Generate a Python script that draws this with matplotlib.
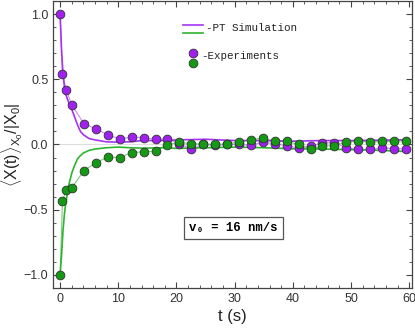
import numpy as np
import matplotlib
matplotlib.use('Agg')
import matplotlib.pyplot as plt
from matplotlib.ticker import MultipleLocator

# experiment sampling times (s)
t_exp = [0, 0.41, 1.03, 2.05, 4.1, 6.15, 8.2, 10.25, 12.3, 14.35, 16.4, 18.45,
         20.5, 22.55, 24.6, 26.65, 28.7, 30.75, 32.8, 34.85, 36.9, 38.95,
         41.0, 43.05, 45.1, 47.15, 49.2, 51.25, 53.3, 55.35, 57.4, 59.45]
exp_pos = [1.0, 0.54, 0.42, 0.30, 0.16, 0.12, 0.074, 0.043, 0.056, 0.053, 0.040, 0.043,
           0.005, -0.033, 0.0, -0.005, 0.0, 0.0, -0.005, 0.018, 0.005, -0.008,
           -0.028, -0.010, 0.010, 0.015, -0.025, -0.038, -0.038, -0.025, -0.033, -0.033]
exp_neg = [-1.0, -0.43, -0.35, -0.33, -0.20, -0.14, -0.097, -0.10, -0.062, -0.056, -0.051, -0.002,
           0.018, 0.005, 0.003, 0.0, 0.005, 0.018, 0.038, 0.048, 0.025, 0.023,
           0.0, -0.036, -0.013, -0.008, 0.018, 0.025, 0.018, 0.023, 0.023, 0.030]

# PT simulation curves
t_sim = [0, 0.25, 0.5, 0.75, 1, 1.5, 2, 2.5, 3, 3.5, 4, 5, 6, 7, 8, 10, 12, 14,
         16, 18, 20, 25, 30, 35, 40, 45, 50, 55, 60]
sim_pos = [1.0, 0.72, 0.54, 0.44, 0.38, 0.32, 0.27, 0.21, 0.15, 0.10, 0.075, 0.045,
           0.035, 0.028, 0.02, 0.018, 0.02, 0.03, 0.03, 0.03, 0.035, 0.04, 0.03,
           0.03, 0.025, 0.03, 0.03, 0.033, 0.036]
sim_neg = [-1.0, -0.85, -0.66, -0.53, -0.44, -0.31, -0.22, -0.16, -0.11, -0.085, -0.065,
           -0.045, -0.035, -0.03, -0.025, -0.02, -0.025, -0.028, -0.027, -0.025, -0.03,
           -0.025, -0.02, -0.025, -0.033, -0.035, -0.04, -0.045, -0.055]

purple = '#A020F0'
green = '#139913'

plt.rcParams['mathtext.fontset'] = 'custom'
plt.rcParams['mathtext.rm'] = 'Liberation Sans'

fig = plt.figure(figsize=(4.15, 3.31), dpi=100)
ax = fig.add_axes([0.128, 0.130, 0.865, 0.867])

ax.axhline(0, color='#dddddd', lw=0.8, zorder=0)

ax.plot(t_sim, sim_pos, color='#A633F2', lw=1.2, zorder=2)
ax.plot(t_sim, sim_neg, color='#2DB52D', lw=1.2, zorder=2)

ax.plot(t_exp, exp_pos, color='#C890F5', lw=0.8, zorder=1)
ax.plot(t_exp, exp_neg, color='#80C880', lw=0.8, zorder=1)
ax.plot(t_exp, exp_pos, 'o', ms=6.3, mfc=purple, mec='#333333', mew=0.6, zorder=3)
ax.plot(t_exp, exp_neg, 'o', ms=6.3, mfc=green, mec='#333333', mew=0.6, zorder=4)

# legend drawn by hand (Mathematica style)
ax.plot([0.362, 0.418], [0.916, 0.916], color='#A633F2', lw=1.2, transform=ax.transAxes)
ax.plot([0.362, 0.418], [0.888, 0.888], color='#2DB52D', lw=1.2, transform=ax.transAxes)
ax.text(0.427, 0.905, '-PT Simulation', transform=ax.transAxes, va='center',
        family='Liberation Mono', fontsize=7.8, color='#222222')
ax.plot([0.39], [0.819], 'o', ms=6.3, mfc=purple, mec='#333333', mew=0.6, transform=ax.transAxes)
ax.plot([0.39], [0.785], 'o', ms=6.3, mfc=green, mec='#333333', mew=0.6, transform=ax.transAxes)
ax.text(0.413, 0.808, '-Experiments', transform=ax.transAxes, va='center',
        family='Liberation Mono', fontsize=7.8, color='#222222')

ax.text(29.8, -0.64, 'v\u2080 = 16 nm/s', ha='center', va='center',
        family=['Liberation Mono', 'DejaVu Sans Mono'], fontweight='bold', fontsize=8.8,
        bbox=dict(boxstyle='square,pad=0.4', fc='white', ec='#555555', lw=0.9))

ax.set_xlim(-1.2, 60.5)
ax.set_ylim(-1.1, 1.1)
ax.xaxis.set_major_locator(MultipleLocator(10))
ax.xaxis.set_minor_locator(MultipleLocator(2))
ax.yaxis.set_major_locator(MultipleLocator(0.5))
ax.yaxis.set_minor_locator(MultipleLocator(0.1))
ax.tick_params(which='both', direction='in', top=True, right=True,
               color='#444444', labelcolor='#333333', labelsize=9)
ax.tick_params(which='major', length=4, width=0.8)
ax.tick_params(which='minor', length=2.3, width=0.6)
ax.set_yticks([-1.0, -0.5, 0.0, 0.5, 1.0])
ax.set_yticklabels(['\u22121.0', '\u22120.5', '0.0', '0.5', '1.0'])
for lab in ax.get_xticklabels() + ax.get_yticklabels():
    lab.set_family('Liberation Sans')
for s in ax.spines.values():
    s.set_color('#444444')
    s.set_linewidth(0.9)

ax.set_xlabel('t (s)', family='Liberation Sans', fontsize=12, color='#222222', labelpad=3)
ax.set_ylabel(r'$\langle\mathrm{X(t)}\rangle_{\mathrm{X_0}}/|\mathrm{X_0}|$',
              fontsize=11.5, color='#222222')
ax.yaxis.set_label_coords(-0.078, 0.5)

fig.savefig('out.png', dpi=100)
